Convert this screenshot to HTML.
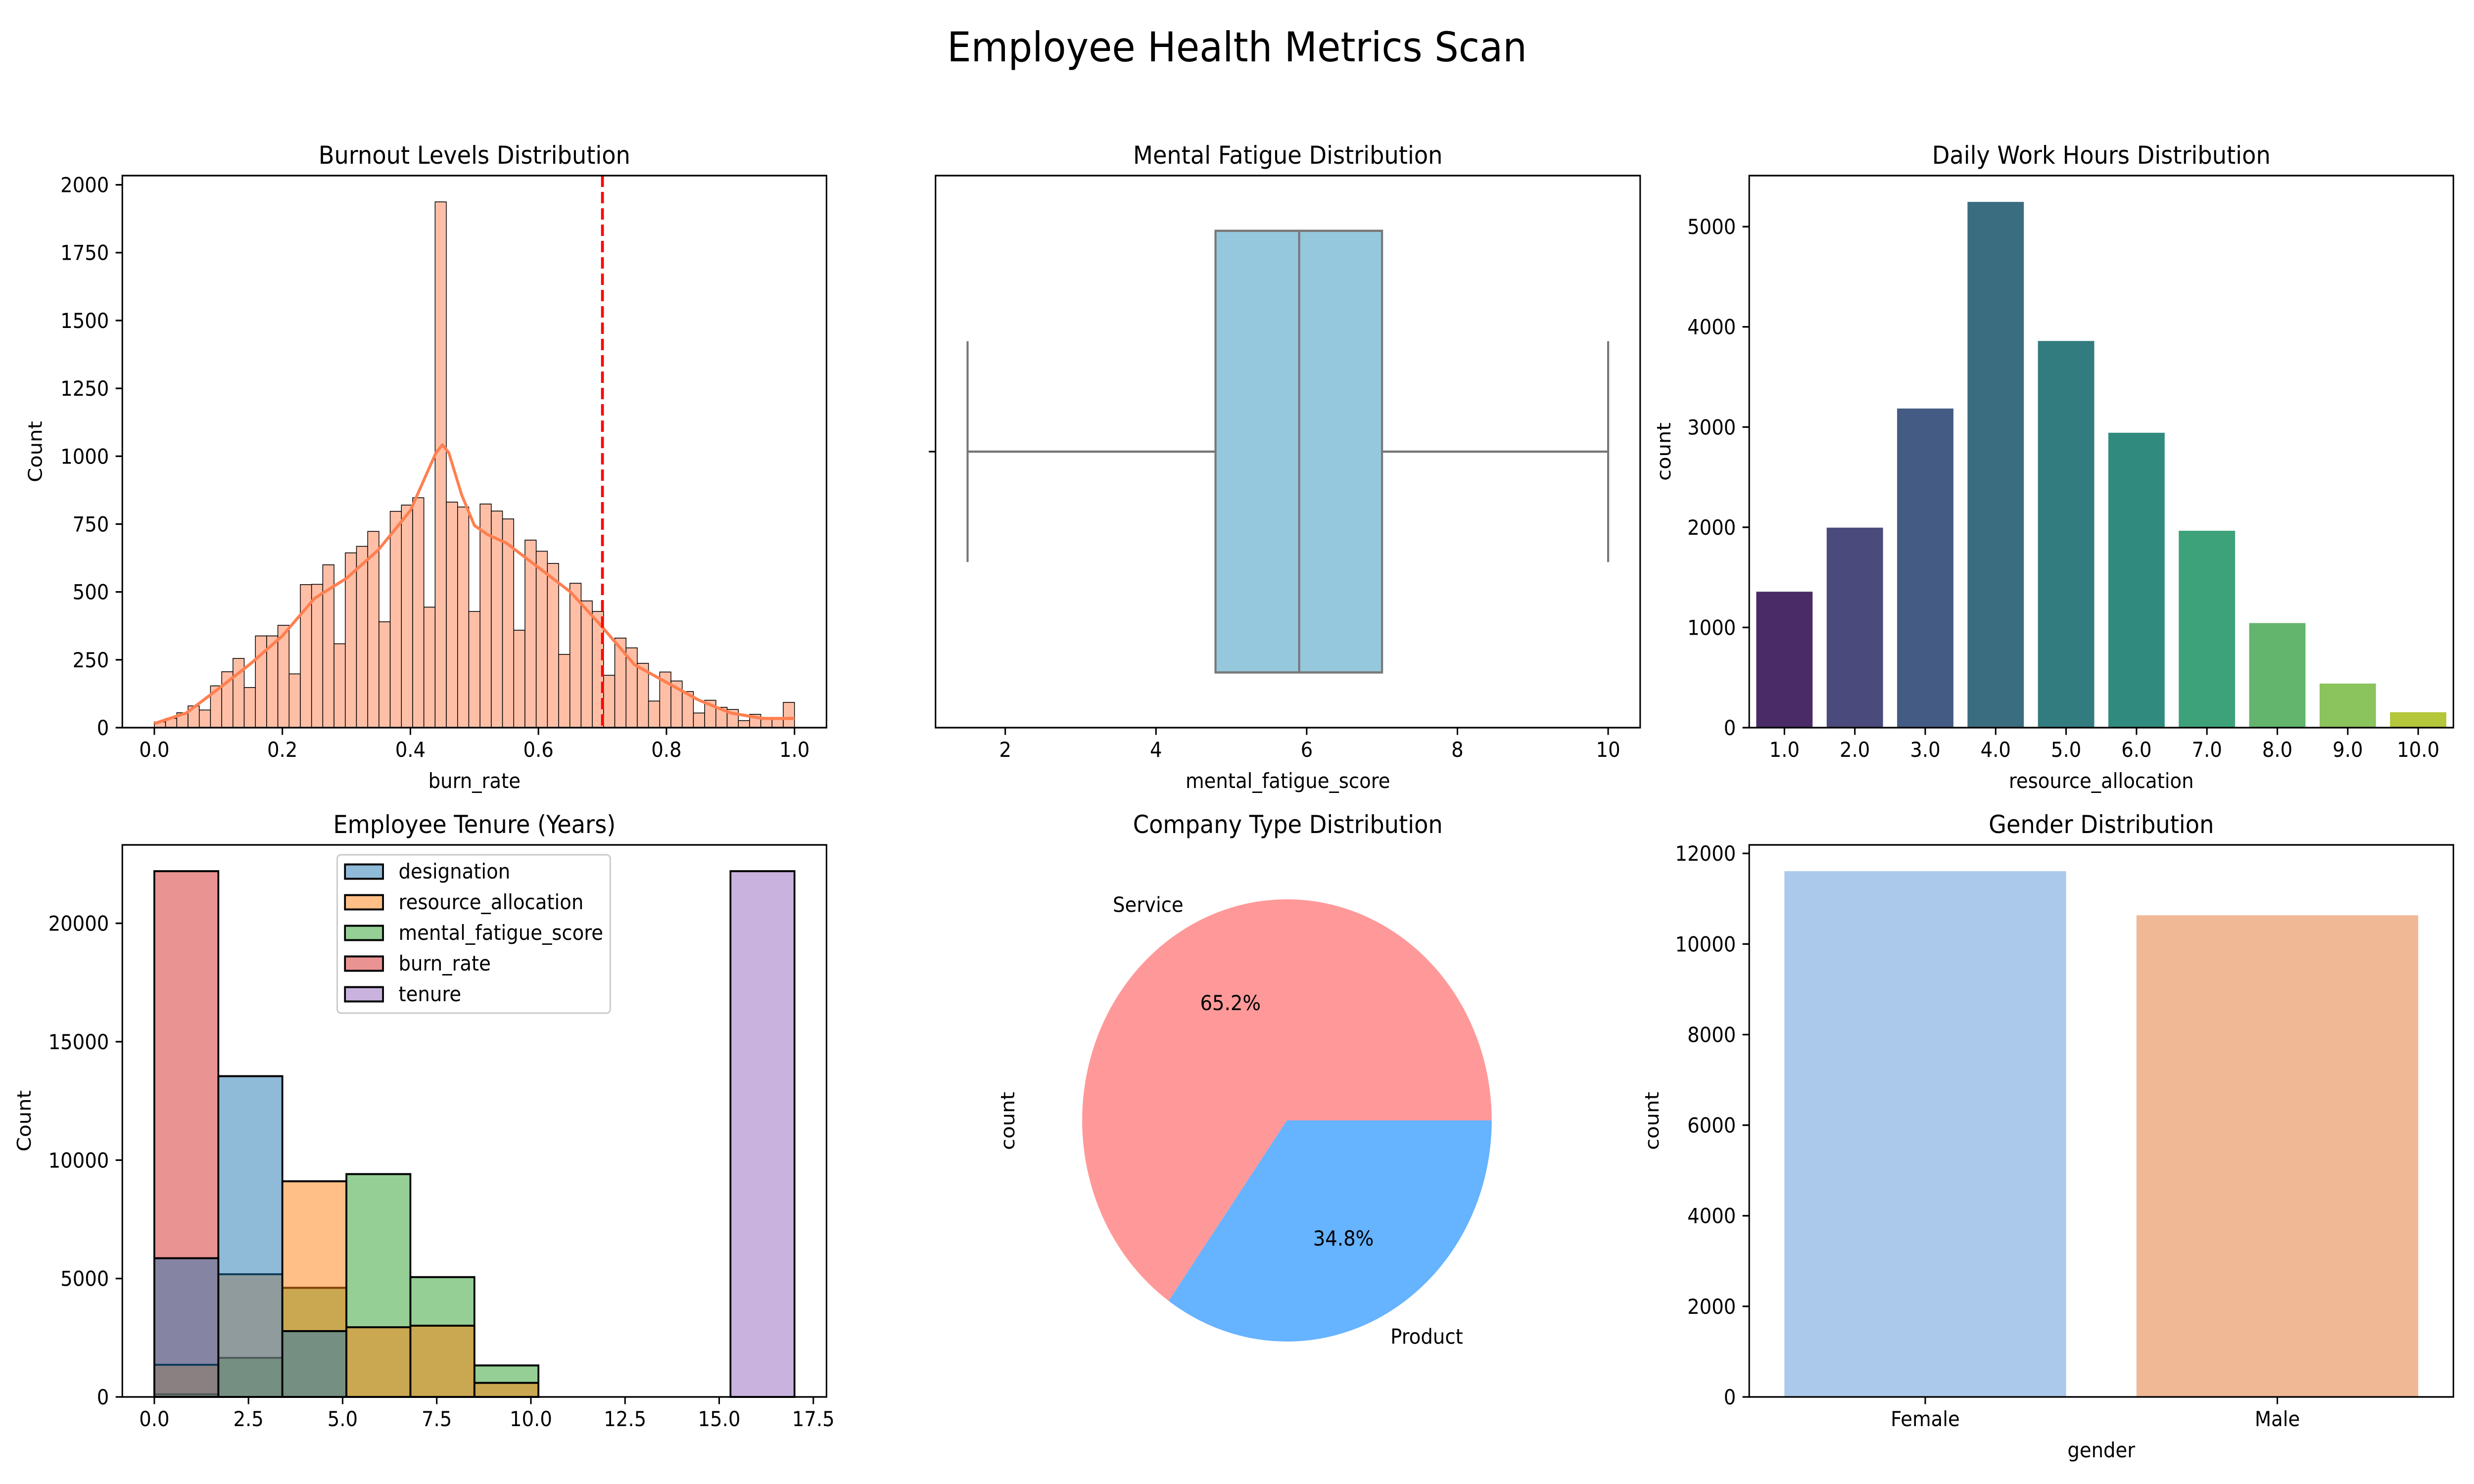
<!DOCTYPE html>
<html><head><meta charset="utf-8"><title>Employee Health Metrics Scan</title>
<style>html,body{margin:0;padding:0;background:#fff;width:100%;height:100%;overflow:hidden}svg{display:block;width:100vw;height:100vh}text{font-family:"DejaVu Sans","Liberation Sans",sans-serif;fill:#000}</style>
</head><body>
<svg id="fig" xmlns="http://www.w3.org/2000/svg" viewBox="0 0 5400 3000" preserveAspectRatio="none">
<rect width="5400" height="3000" fill="#fff"/>
<text x="2700" y="124" font-size="83" text-anchor="middle">Employee Health Metrics Scan</text>
</svg>
<script>
// ---- Burnout histogram data ----
const burnCounts=[21,34,55,80,65,154,206,255,148,338,338,377,198,527,528,600,309,644,668,723,390,797,820,847,444,1937,831,813,428,824,798,769,359,691,650,605,270,532,467,428,193,330,294,237,98,205,172,133,54,101,75,67,26,49,34,34,93];
const kdeX=[0,0.05,0.1,0.15,0.2,0.25,0.3,0.35,0.4,0.42,0.44,0.45,0.46,0.48,0.5,0.52,0.55,0.6,0.65,0.7,0.75,0.8,0.85,0.9,0.95,1.0];
const kdeY=[15,54,143,235,338,476,550,655,800,907,1013,1042,1013,858,745,712,680,590,500,370,232,167,102,54,34,34];
const burnThreshold=[0.7];
const burnXTicks=[0,0.2,0.4,0.6,0.8,1.0];
const burnYTicks=[0,250,500,750,1000,1250,1500,1750,2000];
// ---- Mental fatigue box ----
const fatigueStats=[1.5,4.79,5.9,7.0,10];
const fatigueXTicks=[2,4,6,8,10];
// ---- Daily work hours ----
const hoursCats=['1.0','2.0','3.0','4.0','5.0','6.0','7.0','8.0','9.0','10.0'];
const hoursCounts=[1357,1996,3185,5247,3859,2943,1965,1044,440,154];
const hoursYTicks=[0,1000,2000,3000,4000,5000];
// ---- Tenure histogram ----
const tenureSeries=['designation','resource_allocation','mental_fatigue_score','burn_rate','tenure'];
const tenureBinEdges=[0,1.7,3.4,5.1,6.8,8.5,10.2,11.9,13.6,15.3,17];
const designationCounts=[5858,13545,2780,0,0,0,0,0,0,0];
const resourceCounts=[1357,5181,9106,2943,3009,594,0,0,0,0];
const fatigueCounts=[112,1650,4608,9410,5060,1330,0,0,0,0];
const burnRateCounts=[22201,0,0,0,0,0,0,0,0,0];
const tenureCounts=[0,0,0,0,0,0,0,0,0,22201];
const tenureXTicks=[0,2.5,5,7.5,10,12.5,15,17.5];
const tenureYTicks=[0,5000,10000,15000,20000];
// ---- Company type pie ----
const pieLabels=['Service','Product'];
const pieShares=[65.2,34.8];
// ---- Gender ----
const genderCats=['Female','Male'];
const genderCounts=[11608,10634];
const genderYTicks=[0,2000,4000,6000,8000,10000,12000];

const NS='http://www.w3.org/2000/svg';
const svg=document.getElementById('fig');
function el(tag,attrs,parent){const e=document.createElementNS(NS,tag);for(const k in attrs)e.setAttribute(k,attrs[k]);(parent||svg).appendChild(e);return e;}
function txt(s,attrs,parent){const e=el('text',attrs,parent);e.textContent=s;return e;}
const R1=[355,1471],R2=[1708,2824],C1=[267,1804],C2=[2042,3580],C3=[3818,5355];
function scale(d0,d1,p0,p1){return v=>p0+(v-d0)/(d1-d0)*(p1-p0);}
function fmt(v,dec){return v.toFixed(dec);}
function spines(g,C,R){
  const r=el('rect',{x:C[0],y:R[0],width:C[1]-C[0],height:R[1]-R[0],fill:'none',stroke:'#000','stroke-width':3.3},g);
  
  
}
function title(g,C,R,s){
  const t=txt(s,{x:(C[0]+C[1])/2,y:R[0]-24,'font-size':50,'text-anchor':'middle'},g);
  
  
}
function xticks(g,R,vals,sx,labels){
  vals.forEach((v,i)=>{
    const x=sx(v);
    const l=el('line',{x1:x,x2:x,y1:R[1],y2:R[1]+14.6,stroke:'#000','stroke-width':3.3},g);
    
    
    const t=txt(labels[i],{x:x,y:R[1]+59,'font-size':41.7,'text-anchor':'middle'},g);
    
    
  });
}
function yticks(g,C,vals,sy,labels){
  vals.forEach((v,i)=>{
    const y=sy(v);
    const l=el('line',{x1:C[0]-14.6,x2:C[0],y1:y,y2:y,stroke:'#000','stroke-width':3.3},g);
    
    
    const t=txt(labels[i],{x:C[0]-29,y:y+15,'font-size':41.7,'text-anchor':'end'},g);
    
    
  });
}
function xlabel(g,C,R,s){
  const t=txt(s,{x:(C[0]+C[1])/2,y:R[1]+122,'font-size':41.7,'text-anchor':'middle'},g);
  
  
}
function ylabel(g,x,R,s){
  const cy=(R[0]+R[1])/2;
  const t=txt(s,{x:x+15,y:cy,'font-size':41.7,'text-anchor':'middle',transform:`rotate(-90 ${x+15} ${cy})`},g);
  
  
}
function group(name){const g=el('g',{});return g;}

// ===== Chart 1 =====
(function(){
  const g=group('burnout-histogram');
  const n=burnCounts.length, ymax=Math.max(...burnCounts)*1.05;
  const sx=scale(-0.05,1.05,C1[0],C1[1]), sy=scale(0,ymax,R1[1],R1[0]);
  burnCounts.forEach((c,i)=>{
    const a=i/n,b=(i+1)/n;
    const r=el('rect',{x:sx(a),y:sy(c),width:sx(b)-sx(a),height:sy(0)-sy(c),fill:'#ffbfa7',stroke:'#000','stroke-width':1.6},g);
    
    
  });
  const p=el('path',{d:kdeX.map((x,i)=>(i?'L':'M')+sx(x)+' '+sy(kdeY[i])).join(' '),fill:'none',stroke:'#ff7f50','stroke-width':6.2,'stroke-linejoin':'round'},g);
  
  
  burnThreshold.forEach(v=>{
    const l=el('line',{x1:sx(v),x2:sx(v),y1:R1[0],y2:R1[1],stroke:'#ff0000','stroke-width':6.2,'stroke-dasharray':'23 10'},g);
    
    
  });
  spines(g,C1,R1);
  xticks(g,R1,burnXTicks,sx,burnXTicks.map(v=>fmt(v,1)));
  yticks(g,C1,burnYTicks,sy,burnYTicks.map(String));
  title(g,C1,R1,'Burnout Levels Distribution');
  xlabel(g,C1,R1,'burn_rate');
  ylabel(g,76,R1,'Count');
})();

// ===== Chart 2 =====
(function(){
  const g=group('mental-fatigue-boxplot');
  const sx=scale(1.075,10.425,C2[0],C2[1]), sy=scale(-0.5,0.5,R1[0],R1[1]);
  const [mn,q1,md,q3,mx]=fatigueStats, st={stroke:'#777','stroke-width':4.5};
  const w1=el('line',Object.assign({x1:sx(mn),x2:sx(q1),y1:sy(0),y2:sy(0)},st),g);
  
  
  const w2=el('line',Object.assign({x1:sx(q3),x2:sx(mx),y1:sy(0),y2:sy(0)},st),g);
  
  
  const c1=el('line',Object.assign({x1:sx(mn),x2:sx(mn),y1:sy(-0.2),y2:sy(0.2)},st),g);
  
  
  const c2=el('line',Object.assign({x1:sx(mx),x2:sx(mx),y1:sy(-0.2),y2:sy(0.2)},st),g);
  
  
  const b=el('rect',Object.assign({x:sx(q1),y:sy(-0.4),width:sx(q3)-sx(q1),height:sy(0.4)-sy(-0.4),fill:'#96c8dd'},st),g);
  
  
  const m=el('line',Object.assign({x1:sx(md),x2:sx(md),y1:sy(-0.4),y2:sy(0.4)},st),g);
  
  
  spines(g,C2,R1);
  const yt=el('line',{x1:C2[0]-14.6,x2:C2[0],y1:sy(0),y2:sy(0),stroke:'#000','stroke-width':3.3},g);
  
  
  xticks(g,R1,fatigueXTicks,sx,fatigueXTicks.map(String));
  title(g,C2,R1,'Mental Fatigue Distribution');
  xlabel(g,C2,R1,'mental_fatigue_score');
})();

// ===== Chart 3 =====
(function(){
  const g=group('work-hours-bar-chart');
  const colors=['#4a2b68','#4a4a7c','#445c84','#3b6d80','#327b7f','#308b7e','#3da27a','#63b56e','#8bc35c','#b4c63a'];
  const ymax=Math.max(...hoursCounts)*1.05;
  const sx=scale(-0.5,hoursCats.length-0.5,C3[0],C3[1]), sy=scale(0,ymax,R1[1],R1[0]);
  hoursCounts.forEach((c,i)=>{
    const r=el('rect',{x:sx(i-0.4),y:sy(c),width:sx(0.8)-sx(0),height:sy(0)-sy(c),fill:colors[i%colors.length]},g);
    
    
  });
  spines(g,C3,R1);
  xticks(g,R1,hoursCats.map((_,i)=>i),sx,hoursCats);
  yticks(g,C3,hoursYTicks,sy,hoursYTicks.map(String));
  title(g,C3,R1,'Daily Work Hours Distribution');
  xlabel(g,C3,R1,'resource_allocation');
  ylabel(g,3631,R1,'count');
})();

// ===== Chart 4 =====
(function(){
  const g=group('tenure-histogram');
  const series=[designationCounts,resourceCounts,fatigueCounts,burnRateCounts,tenureCounts];
  const colors=['#1f77b4','#ff7f0e','#2ca02c','#d62728','#9467bd'];
  const ymax=Math.max(...series.map(s=>Math.max(...s)))*1.05;
  const e0=tenureBinEdges[0],e1=tenureBinEdges[tenureBinEdges.length-1],pad=(e1-e0)*0.05;
  const sx=scale(e0-pad,e1+pad,C1[0],C1[1]), sy=scale(0,ymax,R2[1],R2[0]);
  for(let k=series.length-1;k>=0;k--){
    series[k].forEach((c,i)=>{
      const a=tenureBinEdges[i],b=tenureBinEdges[i+1];
      const r=el('rect',{x:sx(a),y:sy(c),width:sx(b)-sx(a),height:sy(0)-sy(c),fill:colors[k],'fill-opacity':0.5,stroke:'#000','stroke-width':4},g);
      
      
    });
  }
  spines(g,C1,R2);
  xticks(g,R2,tenureXTicks,sx,tenureXTicks.map(v=>fmt(v,1)));
  yticks(g,C1,tenureYTicks,sy,tenureYTicks.map(String));
  title(g,C1,R2,'Employee Tenure (Years)');
  ylabel(g,52,R2,'Count');
  const lg=el('g',{},g);
  
  
  el('rect',{x:736,y:1728,width:596,height:320,rx:8,fill:'#fff','fill-opacity':0.8,stroke:'#ccc','stroke-width':3.3},lg);
  tenureSeries.forEach((s,k)=>{
    const y=1762+k*62;
    const sw=el('rect',{x:753,y:y-14.5,width:83,height:29,fill:colors[k],'fill-opacity':0.5,stroke:'#000','stroke-width':4},lg);
    
    
    const t=txt(s,{x:870,y:y+14,'font-size':41.7},lg);
    
    
  });
})();

// ===== Chart 5 =====
(function(){
  const g=group('company-type-pie');
  const colors=['#ff9999','#66b3ff'];
  const cx=2809,cy=2265,r=447;
  const total=pieShares.reduce((a,b)=>a+b,0);
  let ang=0;
  pieShares.forEach((s,i)=>{
    const a1=ang,a2=ang+s/total*2*Math.PI;ang=a2;
    const p1=[cx+r*Math.cos(a1),cy-r*Math.sin(a1)],p2=[cx+r*Math.cos(a2),cy-r*Math.sin(a2)];
    const large=(a2-a1)>Math.PI?1:0;
    const p=el('path',{d:`M${cx} ${cy} L${p1[0]} ${p1[1]} A${r} ${r} 0 ${large} 0 ${p2[0]} ${p2[1]} Z`,fill:colors[i]},g);
    
    
    const mid=(a1+a2)/2,c=Math.cos(mid),sn=Math.sin(mid);
    const lt=txt(pieLabels[i],{x:cx+1.1*r*c,y:cy-1.1*r*sn+15,'font-size':41.7,'text-anchor':c<0?'end':'start'},g);
    
    
    const pt=txt(s.toFixed(1)+'%',{x:cx+0.6*r*c,y:cy-0.6*r*sn+15,'font-size':41.7,'text-anchor':'middle'},g);
    
    
  });
  title(g,C2,R2,'Company Type Distribution');
  ylabel(g,2199,R2,'count');
})();

// ===== Chart 6 =====
(function(){
  const g=group('gender-bar-chart');
  const colors=['#abc9eb','#f0b894'];
  const ymax=Math.max(...genderCounts)*1.05;
  const sx=scale(-0.5,genderCats.length-0.5,C3[0],C3[1]), sy=scale(0,ymax,R2[1],R2[0]);
  genderCounts.forEach((c,i)=>{
    const r=el('rect',{x:sx(i-0.4),y:sy(c),width:sx(0.8)-sx(0),height:sy(0)-sy(c),fill:colors[i]},g);
    
    
  });
  spines(g,C3,R2);
  xticks(g,R2,genderCats.map((_,i)=>i),sx,genderCats);
  yticks(g,C3,genderYTicks,sy,genderYTicks.map(String));
  title(g,C3,R2,'Gender Distribution');
  xlabel(g,C3,R2,'gender');
  ylabel(g,3605,R2,'count');
})();
</script>
</body></html>
